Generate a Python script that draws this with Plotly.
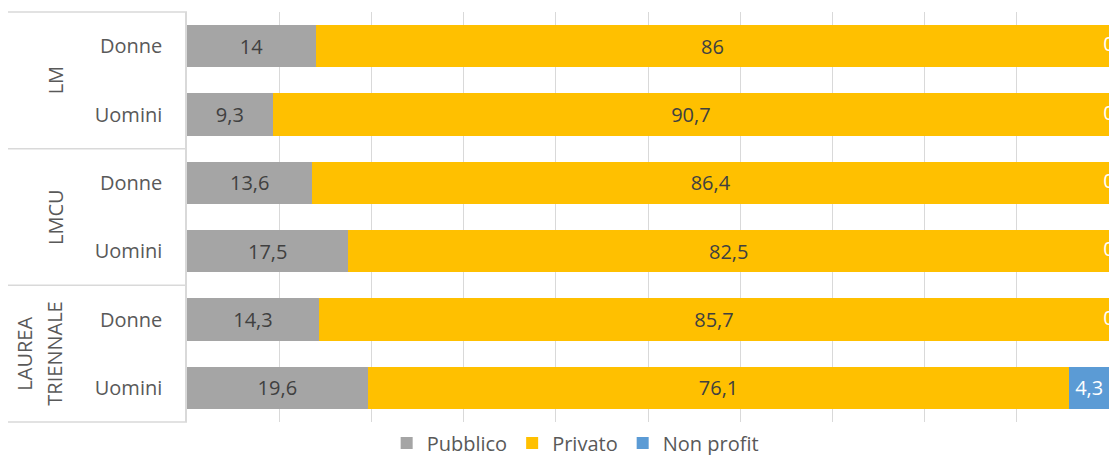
import plotly.graph_objects as go

groups = ["LM", "LM", "LMCU", "LMCU", "LAUREA TRIENNALE", "LAUREA TRIENNALE"]
genders = ["Donne", "Uomini", "Donne", "Uomini", "Donne", "Uomini"]
pubblico = [14, 9.3, 13.6, 17.5, 14.3, 19.6]
privato = [86, 90.7, 86.4, 82.5, 85.7, 76.1]
non_profit = [0, 0, 0, 0, 0, 4.3]
group_lines = [["LM"], ["LMCU"], ["LAUREA", "TRIENNALE"]]

keys = [f"{g}|{s}" for g, s in zip(groups, genders)]


def fmt(v):
    if float(v).is_integer():
        return str(int(v))
    return str(v).replace(".", ",")


FONT = "Open Sans"
TXT = "#404040"
AX = "#595959"
GRID = "#d9d9d9"
FS = 20

fig = go.Figure()
series = [
    ("Pubblico", pubblico, "#a5a5a5", TXT),
    ("Privato", privato, "#ffc000", TXT),
    ("Non profit", non_profit, "#5b9bd5", "white"),
]
for name, vals, col, tcol in series:
    fig.add_trace(go.Bar(
        name=name, y=keys, x=vals, orientation="h",
        marker=dict(color=col, line=dict(width=0)),
        text=[fmt(v) if v > 0 else "" for v in vals],
        textposition="inside", insidetextanchor="middle",
        textangle=0, constraintext="none",
        textfont=dict(family=FONT, size=FS, color=tcol),
    ))

# zero-value labels of the Non profit series (centred at the right end of the bars)
totals = [a + b + c for a, b, c in zip(pubblico, privato, non_profit)]
fig.add_trace(go.Scatter(
    x=totals, y=keys, mode="text",
    text=[fmt(v) if v == 0 else "" for v in non_profit],
    textposition="middle center",
    textfont=dict(family=FONT, size=FS, color="white"),
    cliponaxis=False, showlegend=False, hoverinfo="skip",
))

W, H = 1101, 447
ML, MT, MB, MR = 179, 4, 33, 0
PW = W - ML - MR


def px_to_paper(page_x):
    return (page_x - 8 - ML) / PW


shapes = []
n_groups = len(group_lines)
for i in range(n_groups + 1):
    yy = i / n_groups
    shapes.append(dict(type="line", xref="paper", yref="paper",
                       x0=px_to_paper(8), x1=0, y0=yy, y1=yy,
                       line=dict(color=GRID, width=1.5)))

annotations = []
for i, lines in enumerate(group_lines):
    n = len(lines)
    for j, line in enumerate(lines):
        page_x = 55 - (n - 1 - j) * 30
        annotations.append(dict(
            text=line, xref="paper", yref="paper",
            x=px_to_paper(page_x), y=1 - (i + 0.5) / n_groups,
            xanchor="center", yanchor="middle", textangle=-90,
            showarrow=False, font=dict(family=FONT, size=FS, color=AX),
        ))

fig.update_layout(
    width=W, height=H,
    margin=dict(l=ML, r=MR, t=MT, b=MB, autoexpand=False),
    paper_bgcolor="white", plot_bgcolor="white",
    barmode="stack", bargap=0.38,
    font=dict(family=FONT, size=FS, color=AX),
    shapes=shapes, annotations=annotations,
    legend=dict(orientation="h", x=0.421, xanchor="center",
                y=-0.051, yanchor="middle",
                font=dict(family=FONT, size=FS, color=AX),
                traceorder="normal"),
    xaxis=dict(range=[0, 100], dtick=10, showgrid=True, gridcolor=GRID,
               gridwidth=1, showticklabels=False, zeroline=False,
               showline=False, fixedrange=True),
    yaxis=dict(type="category", categoryorder="array", categoryarray=keys,
               autorange="reversed", tickvals=keys, ticktext=genders,
               showline=True, linecolor=GRID, linewidth=1.5,
               ticks="", ticklabelstandoff=19,
               tickfont=dict(family=FONT, size=FS, color=AX),
               showgrid=False, zeroline=False),
)

fig.write_html("out.html")
